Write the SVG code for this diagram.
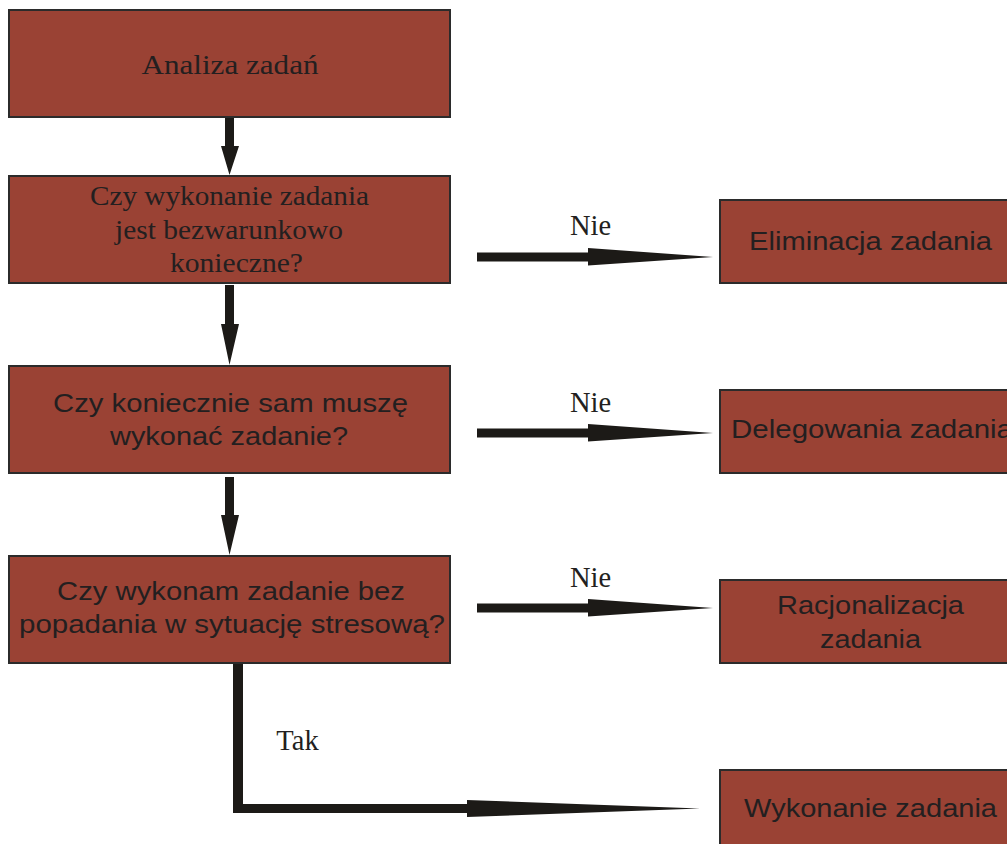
<svg xmlns="http://www.w3.org/2000/svg" width="1007" height="844" viewBox="0 0 1007 844">
<style>
.box{fill:#9a4234;stroke:#2b2b2b;stroke-width:2}
.serif{font-family:"Liberation Serif","Times New Roman",serif;font-size:27px;fill:#231f20}
.lbl{font-family:"Liberation Serif","Times New Roman",serif;font-size:28.5px;fill:#231f20}
.sans{font-family:"Liberation Sans",Arial,sans-serif;font-size:26px;fill:#231f20}
.arr{fill:#1c1a17}
</style>
<rect width="1007" height="844" fill="#ffffff"/>
<g id="n1"><rect class="box" x="9" y="10" width="441" height="107"/>
<text class="serif" x="230" y="74" text-anchor="middle" textLength="177" lengthAdjust="spacingAndGlyphs">Analiza zadań</text></g>
<g id="n2"><rect class="box" x="9" y="176" width="441" height="107"/>
<text class="serif" x="229.5" y="205" text-anchor="middle" textLength="279" lengthAdjust="spacingAndGlyphs">Czy wykonanie zadania</text>
<text class="serif" x="229" y="239" text-anchor="middle" textLength="228" lengthAdjust="spacingAndGlyphs">jest bezwarunkowo</text>
<text class="serif" x="236.5" y="272" text-anchor="middle" textLength="133" lengthAdjust="spacingAndGlyphs">konieczne?</text></g>
<g id="n3"><rect class="box" x="9" y="366" width="441" height="107"/>
<text class="sans" x="230.5" y="412" text-anchor="middle" textLength="355" lengthAdjust="spacingAndGlyphs">Czy koniecznie sam muszę</text>
<text class="sans" x="229" y="445" text-anchor="middle" textLength="238" lengthAdjust="spacingAndGlyphs">wykonać zadanie?</text></g>
<g id="n4"><rect class="box" x="9" y="556" width="441" height="107"/>
<text class="sans" x="231" y="600" text-anchor="middle" textLength="348" lengthAdjust="spacingAndGlyphs">Czy wykonam zadanie bez</text>
<text class="sans" x="232" y="633" text-anchor="middle" textLength="426" lengthAdjust="spacingAndGlyphs">popadania w sytuację stresową?</text></g>
<g id="r1"><rect class="box" x="720" y="200" width="300" height="83"/>
<text class="sans" x="749" y="250" textLength="243" lengthAdjust="spacingAndGlyphs">Eliminacja zadania</text></g>
<g id="r2"><rect class="box" x="720" y="390" width="300" height="83"/>
<text class="sans" x="731" y="438" textLength="282" lengthAdjust="spacingAndGlyphs">Delegowania zadania</text></g>
<g id="r3"><rect class="box" x="720" y="580" width="300" height="83"/>
<text class="sans" x="870.5" y="614" text-anchor="middle" textLength="187" lengthAdjust="spacingAndGlyphs">Racjonalizacja</text>
<text class="sans" x="870.5" y="648" text-anchor="middle" textLength="101" lengthAdjust="spacingAndGlyphs">zadania</text></g>
<g id="r4"><rect class="box" x="720" y="770" width="300" height="83"/>
<text class="sans" x="744" y="817" textLength="253" lengthAdjust="spacingAndGlyphs">Wykonanie zadania</text></g>
<g id="connectors">
<polygon class="arr" points="225,118 234,118 234,146 239,146 229.5,175 221,146 225,146"/>
<polygon class="arr" points="225,285 234,285 234,324 239,324 229.5,365 221,324 225,324"/>
<polygon class="arr" points="225,477 234,477 234,515 239,515 229.5,555 221,515 225,515"/>
<polygon class="arr" points="477,252.5 588,252.5 588,248 713,257 588,265.5 588,261.5 477,261.5"/>
<polygon class="arr" points="477,428.5 588,428.5 588,424 713,433 588,441.5 588,437.5 477,437.5"/>
<polygon class="arr" points="477,603.5 588,603.5 588,599 713,608 588,616.5 588,612.5 477,612.5"/>
<polygon class="arr" points="233,664 243,664 243,804 467,804 467,800 700,808.5 467,817 467,813 233,813"/>
<text class="lbl" x="590.5" y="235" text-anchor="middle">Nie</text>
<text class="lbl" x="590.5" y="412" text-anchor="middle">Nie</text>
<text class="lbl" x="590.5" y="587" text-anchor="middle">Nie</text>
<text class="lbl" x="297.5" y="750" text-anchor="middle">Tak</text>
</g>
</svg>
